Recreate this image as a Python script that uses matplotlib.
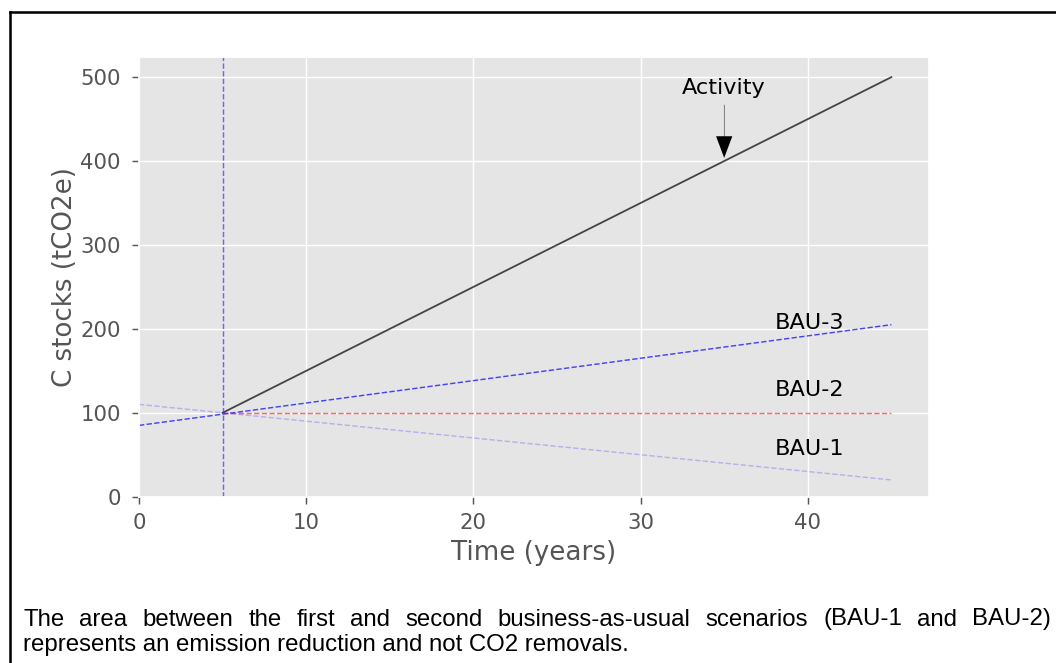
import matplotlib
matplotlib.use("Agg")
import matplotlib.pyplot as plt
from matplotlib.lines import Line2D

# --- data -------------------------------------------------------------
activity_x = [5, 45]
activity_y = [100, 500]
bau1_x = [0, 45]
bau1_y = [110, 20]
bau2_x = [5, 45]
bau2_y = [100, 100]
bau3_x = [0, 45]
bau3_y = [85, 205]
project_start = 5

bau_labels = ["BAU-1", "BAU-2", "BAU-3"]
bau_label_y = [50, 120, 200]
bau_label_x = 38

activity_label = "Activity"
activity_point = (35, 400)
activity_text_pos = (35, 487)

caption_line1 = ("The area between the first and second business-as-usual "
                 "scenarios (BAU-1 and BAU-2)")
caption_line2 = "represents an emission reduction and not CO2 removals."

# --- figure -----------------------------------------------------------
plt.style.use("ggplot")
plt.rcParams["font.family"] = ["DejaVu Sans"]
DPI = 130
W, H = 1056, 663
fig = plt.figure(figsize=(W / DPI, H / DPI), dpi=DPI)
fig.patch.set_facecolor("white")

ax = fig.add_axes([139 / W, 1 - 496.7 / H, 790 / W, (496.7 - 57) / H])

ax.plot(activity_x, activity_y, color="black", alpha=0.7, lw=1.0)
ax.plot(bau3_x, bau3_y, color="blue", alpha=0.7, lw=0.8, ls="--")
ax.plot(bau2_x, bau2_y, color="red", alpha=0.6, lw=0.8, ls="--")
ax.plot(bau1_x, bau1_y, color="blue", alpha=0.22, lw=0.8, ls="--")
ax.axvline(project_start, color="#3030ff", alpha=0.7, lw=0.8, ls="--")

for lab, yv in zip(bau_labels, bau_label_y):
    ax.text(bau_label_x, yv, lab, fontsize=12.4, color="black",
            ha="left", va="baseline")

ax.annotate(activity_label, xy=activity_point, xytext=activity_text_pos,
            ha="center", va="center", fontsize=12.4, color="black",
            arrowprops=dict(facecolor="black", edgecolor="none", width=0.25,
                            headwidth=9, headlength=12, shrink=0.05))

ax.set_xlim(0, None)
ax.set_ylim(0, None)
ax.set_xticks([0, 10, 20, 30, 40])
ax.set_yticks([0, 100, 200, 300, 400, 500])
ax.tick_params(axis="both", labelsize=11.8, length=4)
ax.tick_params(axis="y", pad=6)
ax.tick_params(axis="x", pad=5)
ax.set_xlabel("Time (years)", fontsize=14.5)
ax.set_ylabel("C stocks (tCO2e)", fontsize=14.5, labelpad=1.5)

# --- frame around the figure (top and left edges) ---------------------
fx = 9.5 / W
fy = 1 - 11.7 / H
fig.add_artist(Line2D([fx, 1.01], [fy, fy], transform=fig.transFigure,
                      color="black", lw=1.4))
fig.add_artist(Line2D([fx, fx], [-0.01, fy], transform=fig.transFigure,
                      color="black", lw=1.4))

# --- caption, first line justified across the width -------------------
cap_font = dict(family=["Liberation Sans", "DejaVu Sans"], fontsize=13.3,
                color="black")
x_left, x_right = 23 / W, 1051 / W
y1 = 1 - 625.5 / H
y2 = 1 - 651 / H

renderer = fig.canvas.get_renderer()
words = caption_line1.split()
texts = [fig.text(0, y1, w, ha="left", va="baseline", **cap_font) for w in words]
widths = [t.get_window_extent(renderer).width / W for t in texts]
gap = (x_right - x_left - sum(widths)) / (len(words) - 1)
xpos = x_left
for t, wd in zip(texts, widths):
    t.set_x(xpos)
    xpos += wd + gap

fig.text(x_left, y2, caption_line2, ha="left", va="baseline", **cap_font)

fig.savefig("out.png", dpi=DPI, facecolor="white")
